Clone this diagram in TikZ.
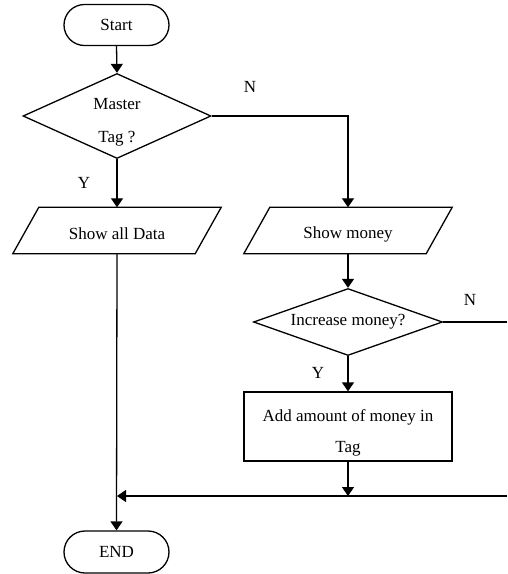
\documentclass[tikz,border=0pt]{standalone}
\usepackage{fontspec}
\setmainfont{Liberation Serif}
\usetikzlibrary{shapes.geometric,shapes.misc,arrows.meta}
\newcommand\drawio[1]{\draw[iofr] ([xshift=13pt]#1.north west) -- ([xshift=13pt]#1.north east)
  -- ([xshift=-13pt]#1.south east) -- ([xshift=-13pt]#1.south west) -- cycle;}
\begin{document}
\begin{tikzpicture}[x=1pt,y=-1pt,
  every node/.style={font=\fontsize{17}{31}\selectfont},
  base/.style={draw, line width=1.3pt, inner sep=0pt, align=center},
  term/.style={base, rounded rectangle, minimum width=105pt, minimum height=41pt},
  dec/.style={base, diamond},
  io/.style={inner sep=0pt, minimum width=182pt, minimum height=46pt},
  iofr/.style={line width=1.3pt, line join=miter},
  proc/.style={base, rectangle, minimum width=208pt, minimum height=69pt},
  conn/.style={line width=1.3pt},
  arr/.style={conn, -{Triangle[width=12pt,length=9pt]}},
  lbl/.style={inner sep=0pt}]
\useasboundingbox (0,0) rectangle (507,574);
\node[term] (start) at (116.5,25) {Start};
\node[dec, aspect=2.2, minimum width=188pt, minimum height=85pt] (d1) at (117,116)
  {\rule{0pt}{24pt}Master\\[2pt]Tag ?};
\node[io] (data) at (117,230.5) {\rule{0pt}{19pt}Show all Data};
\node[io] (money) at (348,230.5) {\rule{0pt}{19pt}Show money};
\drawio{data}
\drawio{money}
\node[dec, aspect=2.8, minimum width=189pt, minimum height=67pt] (d2) at (348,322) {Increase money?};
\node[proc] (add) at (348,426.5) {\rule{0pt}{24pt}Add amount of money in\\Tag};
\node[term, minimum height=42pt] (end) at (116.5,552) {END};
\node[lbl] (n1) at (250,87) {N};
\node[lbl] (y1) at (84,183) {Y};
\node[lbl] (n2) at (470,300) {N};
\node[lbl] (y2) at (318,373) {Y};
\coordinate (r1) at (507,322);
\coordinate (r2) at (507,496);
\coordinate (m) at (348,496);
\coordinate (j) at (117,496);
\draw[arr] (start.south) -- (d1.north);
\draw[arr] (d1.south) -- (data.north);
\draw[arr] (d1.east) -| (money.north);
\draw[arr] (money.south) -- (d2.north);
\draw[conn] (d2.east) -- (r1);
\draw[arr] (d2.south) -- (add.north);
\draw[arr] (add.south) -- (m);
\draw[arr] (r2) -- (j);
\draw[arr] (data.south) -- (end.north);
\end{tikzpicture}
\end{document}
